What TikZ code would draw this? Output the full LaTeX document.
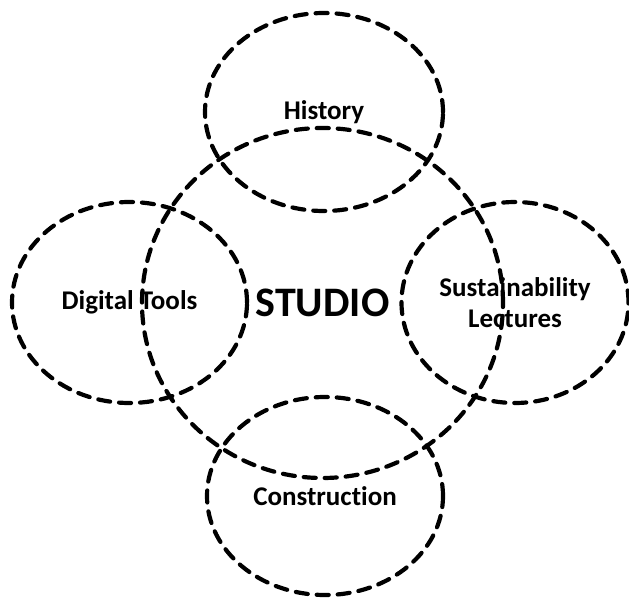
\documentclass[tikz,border=0pt]{standalone}
\usepackage{fontspec}
\setmainfont{Carlito}[Ligatures=NoCommon]
\usetikzlibrary{shapes.geometric}
\tikzset{
  ring/.style={
    ellipse,
    draw=black,
    line width=4.2pt,
    dash pattern=on 12pt off 9pt,
    line cap=round,
    inner sep=0pt,
    align=center,
    font=\bfseries\fontsize{27}{31}\selectfont
  },
  hub/.style={
    ring,
    font=\bfseries\fontsize{42}{46}\selectfont
  }
}
\begin{document}
\begin{tikzpicture}[x=1pt, y=-1pt]
  \useasboundingbox (0,0) rectangle (629,599);

  \node[hub, minimum width=361pt, minimum height=350pt] (studio) at (322.5,303) {STUDIO};
  \node[ring, minimum width=238pt, minimum height=198pt] (history) at (324,112) {History};
  \node[ring, minimum width=235pt, minimum height=201pt] (digital) at (129.5,302.5) {Digital Tools};
  \node[ring, minimum width=227pt, minimum height=201pt] (sustain) at (515,302.5) {Sustainability\\Lectures};
  \node[ring, minimum width=236pt, minimum height=198pt] (construct) at (325,496) {Construction};
\end{tikzpicture}
\end{document}
